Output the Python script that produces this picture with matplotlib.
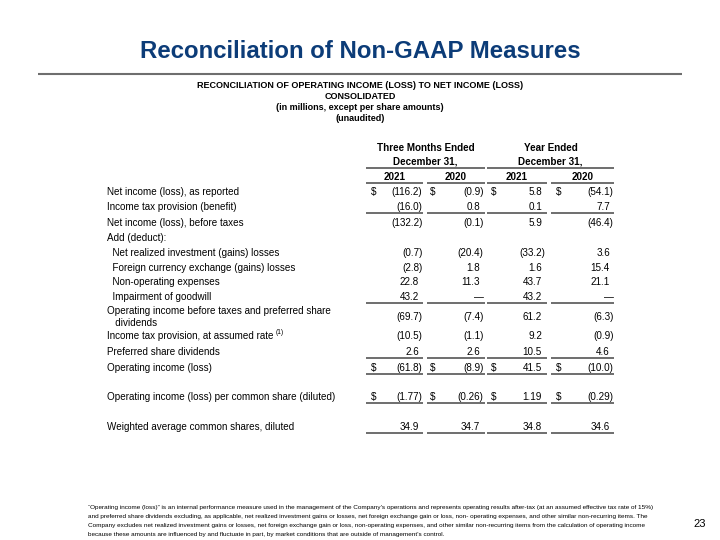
import matplotlib
matplotlib.use("Agg")
import matplotlib.pyplot as plt

plt.rcParams["font.family"] = ["Liberation Sans", "DejaVu Sans"]

# ---------------------------------------------------------------------------
# Data
# ---------------------------------------------------------------------------

title = "Reconciliation of Non-GAAP Measures"
subtitle = [
    "RECONCILIATION OF OPERATING INCOME (LOSS) TO NET INCOME (LOSS)",
    "CONSOLIDATED",
    "(in millions, except per share amounts)",
    "(unaudited)",
]
group_headers = ["Three Months Ended", "Year Ended"]
group_sub = "December 31,"
col_years = ["2021", "2020", "2021", "2020"]

row_labels = [
    "Net income (loss), as reported",
    "Income tax provision (benefit)",
    "Net income (loss), before taxes",
    "Add (deduct):",
    "  Net realized investment (gains) losses",
    "  Foreign currency exchange (gains) losses",
    "  Non-operating expenses",
    "  Impairment of goodwill",
    "Operating income before taxes and preferred share\n   dividends",
    "Income tax provision, at assumed rate",
    "Preferred share dividends",
    "Operating income (loss)",
    "Operating income (loss) per common share (diluted)",
    "Weighted average common shares, diluted",
]
# None = blank cell, 0.0 = dash
q4_2021 = [-116.2, -16.0, -132.2, None, -0.7, -2.8, 22.8, 43.2, -69.7, -10.5, 2.6, -61.8, -1.77, 34.9]
q4_2020 = [-0.9, 0.8, -0.1, None, -20.4, 1.8, 11.3, 0.0, -7.4, -1.1, 2.6, -8.9, -0.26, 34.7]
fy_2021 = [5.8, 0.1, 5.9, None, -33.2, 1.6, 43.7, 43.2, 61.2, 9.2, 10.5, 41.5, 1.19, 34.8]
fy_2020 = [-54.1, 7.7, -46.4, None, 3.6, 15.4, 21.1, 0.0, -6.3, -0.9, 4.6, -10.0, -0.29, 34.6]
decimals = [1, 1, 1, 1, 1, 1, 1, 1, 1, 1, 1, 1, 2, 1]
dollar_rows = [0, 11, 12]
underline_rows = [1, 7, 10, 11, 12, 13]
superscript_rows = {9: "(1)"}

footnote = [
    "\u201cOperating income (loss)\u201d is an internal performance measure used in the management of the Company's operations and represents operating results after-tax (at an assumed effective tax rate of 15%)",
    "and preferred share dividends excluding, as applicable, net realized investment gains or losses, net foreign exchange gain or loss, non- operating expenses, and other similar non-recurring items. The",
    "Company excludes net realized investment gains or losses, net foreign exchange gain or loss, non-operating expenses, and other similar non-recurring items from the calculation of operating income",
    "because these amounts are influenced by and fluctuate in part, by market conditions that are outside of management's control.",
]
page_number = "23"

# ---------------------------------------------------------------------------
# Layout (pixel coordinates on a 720x540 canvas)
# ---------------------------------------------------------------------------

row_y = [192, 207, 223, 238, 253, 268, 282, 297, 317, 336, 352, 368, 397, 427]
col_spans = [(366, 423), (427, 485), (487, 547), (551, 614)]
col_right = [419, 480, 542, 610]
dollar_x = [371, 430, 491, 556]
paren_w = 3.5

title_color = "#0c3c78"
rule_color = "#6e6e6e"
fs = 7.1

fig = plt.figure(figsize=(7.2, 5.4), dpi=100)
ax = fig.add_axes([0, 0, 1, 1])
ax.set_xlim(0, 720)
ax.set_ylim(540, 0)
ax.axis("off")

ax.text(360, 51, title, ha="center", va="center", fontsize=17.3,
        fontweight="bold", color=title_color)
ax.plot([38, 682], [74, 74], color=rule_color, lw=1.5, solid_capstyle="butt")

for i, line in enumerate(subtitle):
    ax.text(360, 86 + i * 10.8, line, ha="center", va="center",
            fontsize=6.5, fontweight="bold")

# column headers
group_spans = [(col_spans[0][0], col_spans[1][1]), (col_spans[2][0], col_spans[3][1])]
for (x0, x1), head in zip(group_spans, group_headers):
    xc = (x0 + x1) / 2
    ax.text(xc, 148, head, ha="center", va="center", fontsize=fs, fontweight="bold")
    ax.text(xc, 162, group_sub, ha="center", va="center", fontsize=fs, fontweight="bold")
    ax.plot([x0, x1], [168, 168], color=rule_color, lw=1.4, solid_capstyle="butt")
for (x0, x1), yr in zip(col_spans, col_years):
    ax.text((x0 + x1) / 2, 177, yr, ha="center", va="center", fontsize=fs, fontweight="bold")
    ax.plot([x0, x1], [183, 183], color=rule_color, lw=1.4, solid_capstyle="butt")

fig.canvas.draw()
renderer = fig.canvas.get_renderer()

columns = [q4_2021, q4_2020, fy_2021, fy_2020]
for r, label in enumerate(row_labels):
    y = row_y[r]
    if "\n" in label:
        first, second = label.split("\n")
        ax.text(107, y - 6, first, ha="left", va="center", fontsize=fs)
        ax.text(107, y + 6, second, ha="left", va="center", fontsize=fs)
    else:
        t = ax.text(107, y, label, ha="left", va="center", fontsize=fs)
        if r in superscript_rows:
            bb = t.get_window_extent(renderer)
            ax.text(bb.x1 + 2, y - 3, superscript_rows[r], ha="left",
                    va="center", fontsize=4.8)
    for c, vals in enumerate(columns):
        v = vals[r]
        if v is None:
            continue
        if v == 0:
            s, xr = "\u2014", col_right[c] + paren_w
        elif v < 0:
            s, xr = f"({abs(v):.{decimals[r]}f})", col_right[c] + paren_w
        else:
            s, xr = f"{v:.{decimals[r]}f}", col_right[c]
        ax.text(xr, y, s, ha="right", va="center", fontsize=fs)
        if r in dollar_rows:
            ax.text(dollar_x[c], y, "$", ha="left", va="center", fontsize=fs)
        if r in underline_rows:
            x0, x1 = col_spans[c]
            ax.plot([x0, x1], [y + 6, y + 6], color=rule_color, lw=1.4,
                    solid_capstyle="butt")

for i, line in enumerate(footnote):
    ax.text(88, 507 + i * 9.2, line, ha="left", va="center", fontsize=4.63)
ax.text(700, 524, page_number, ha="center", va="center", fontsize=8)

fig.savefig("out.png", dpi=100)
